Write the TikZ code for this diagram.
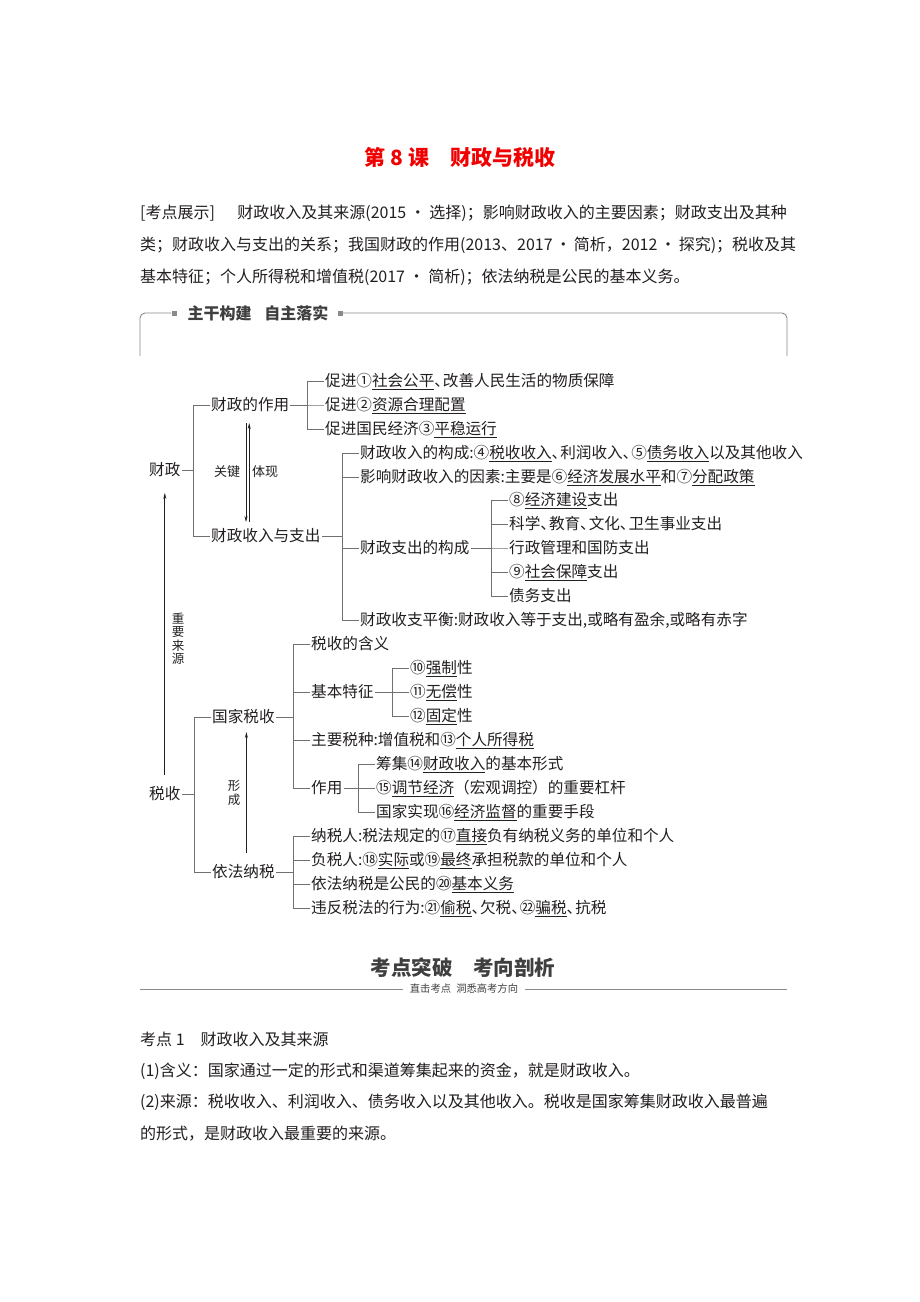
\documentclass[tikz,border=0pt]{standalone}
\usepackage{fontspec}
\setmainfont{Noto Sans CJK SC}
\usetikzlibrary{arrows.meta,positioning}
\definecolor{titlered}{HTML}{F00000}
\definecolor{bodytext}{HTML}{231F20}
\definecolor{headgray}{HTML}{3F3F3F}
\definecolor{framegray}{HTML}{8A8A8A}
\definecolor{branchgray}{HTML}{707070}
\newsavebox{\ansbox}
\newcommand{\ans}[1]{\sbox{\ansbox}{#1}\rlap{\rule[-3.4pt]{\wd\ansbox}{0.8pt}}\usebox{\ansbox}}
\newcommand{\dun}{\makebox[.55em][l]{、}}
\newcommand{\treefont}{\fontsize{15.6}{18}\selectfont}
\newcommand{\parafont}{\fontsize{16}{20}\selectfont}
\newcommand{\markfont}{\fontsize{12.5}{13.5}\selectfont}

\begin{document}
\begin{tikzpicture}[
    x=1pt, y=-1pt,
    >={Stealth[length=6pt,width=3pt]},
    every node/.style={inner sep=1pt, text=bodytext},
    item/.style={anchor=west, font=\treefont, text height=13.5pt, text depth=2pt},
    para/.style={anchor=west, font=\parafont, inner sep=0pt},
    vlabel/.style={font=\markfont, align=center, inner sep=0pt},
    branch/.style={draw=branchgray, line width=0.8pt},
    boxline/.style={draw=framegray, line width=0.9pt},
    sqmark/.style={fill=framegray, minimum size=5pt, inner sep=0pt},
    arrow/.style={->, draw=bodytext, line width=0.7pt}
]
    \useasboundingbox (0,0) rectangle (920,1302);
    \fill[white] (0,0) rectangle (920,1302);

    % === TITLE AND INTRO ===
    \node[font=\fontsize{21}{24}\selectfont\bfseries, text=titlered] (title) at (460,157) {第 8 课\quad 财政与税收};

    \node[para] (intro1) at (140,213) {[考点展示]\hspace{1.4em}财政收入及其来源(2015 • 选择)；影响财政收入的主要因素；财政支出及其种};
    \node[para] (intro2) at (140,245) {类；财政收入与支出的关系；我国财政的作用(2013、2017\,•\,简析，2012\,•\,探究)；税收及其};
    \node[para] (intro3) at (140,277) {基本特征；个人所得税和增值税(2017 • 简析)；依法纳税是公民的基本义务。};

    % Frame header
    \node[sqmark] (sqleft) at (174,313) {};
    \node[font=\fontsize{16}{18}\selectfont\bfseries, text=headgray] (zhugan) at (258,313) {主干构建\hspace{0.8em}自主落实};
    \node[sqmark] (sqright) at (340.5,313) {};
    \draw[boxline, rounded corners=5pt] (140,356) -- (140,313) -- (sqleft.west);
    \draw[boxline, rounded corners=5pt] (sqright.east) -- (787,313) -- (787,356);

    % === CAIZHENG TREE ===
    \node[item] (caizheng) at (148,470) {财政};
    \node[item] (zuoyong) at (210,405) {财政的作用};
    \node[item] (shouzhi) at (210,536) {财政收入与支出};
    \draw[branch] (zuoyong.west) -- ++(-17,0) |- (caizheng.east)
                  (shouzhi.west) -- ++(-17,0) |- (caizheng.east);

    % Role of finance
    \node[item] (gongping) at (324,381) {促进①\ans{社会公平}\dun 改善人民生活的物质保障};
    \node[item] (peizhi) at (324,405) {促进②\ans{资源合理配置}};
    \node[item] (yunxing) at (324,429) {促进国民经济③\ans{平稳运行}};
    \draw[branch] (gongping.west) -- ++(-17,0) |- (zuoyong.east)
                  (peizhi.west) -- ++(-17,0) |- (zuoyong.east)
                  (yunxing.west) -- ++(-17,0) |- (zuoyong.east);

    % Revenue and expenditure
    \node[item] (goucheng) at (359,453) {财政收入的构成:④\ans{税收收入}\dun 利润收入\dun ⑤\ans{债务收入}以及其他收入};
    \node[item] (yinsu) at (359,477) {影响财政收入的因素:主要是⑥\ans{经济发展水平}和⑦\ans{分配政策}};
    \node[item] (zhichu) at (359,548) {财政支出的构成};
    \node[item] (pingheng) at (359,620) {财政收支平衡:财政收入等于支出,或略有盈余,或略有赤字};
    \draw[branch] (goucheng.west) -- ++(-17,0) |- (shouzhi.east)
                  (yinsu.west) -- ++(-17,0) |- (shouzhi.east)
                  (zhichu.west) -- ++(-17,0) |- (shouzhi.east)
                  (pingheng.west) -- ++(-17,0) |- (shouzhi.east);

    % Kinds of expenditure
    \node[item] (jianshe) at (508,500) {⑧\ans{经济建设}支出};
    \node[item] (kejiao) at (508,524) {科学\dun 教育\dun 文化\dun 卫生事业支出};
    \node[item] (guofang) at (508,548) {行政管理和国防支出};
    \node[item] (baozhang) at (508,572) {⑨\ans{社会保障}支出};
    \node[item] (zhaiwu) at (508,596) {债务支出};
    \draw[branch] (jianshe.west) -- ++(-17,0) |- (zhichu.east)
                  (kejiao.west) -- ++(-17,0) |- (zhichu.east)
                  (guofang.west) -- ++(-17,0) |- (zhichu.east)
                  (baozhang.west) -- ++(-17,0) |- (zhichu.east)
                  (zhaiwu.west) -- ++(-17,0) |- (zhichu.east);

    % Key / embodies
    \coordinate (kjtop) at (247.6,423);
    \coordinate (kjbot) at (247.6,522);
    \draw[arrow] ([xshift=-1.6]kjtop) -- ([xshift=-1.6]kjbot);
    \draw[arrow] ([xshift=1.6]kjbot) -- ([xshift=1.6]kjtop);
    \node[font=\fontsize{13}{15}\selectfont] (guanjian) at (227,472) {关键};
    \node[font=\fontsize{13}{15}\selectfont] (tixian) at (265,472) {体现};

    % === SHUISHOU TREE ===
    \node[item] (shuishou) at (148,794) {税收};
    \node[item] (guojia) at (211,717) {国家税收};
    \node[item] (yifa) at (211,872) {依法纳税};
    \draw[branch] (guojia.west) -- ++(-17,0) |- (shuishou.east)
                  (yifa.west) -- ++(-17,0) |- (shuishou.east);

    % Important source
    \draw[arrow, shorten <=10pt, shorten >=14pt] (shuishou.north) -- (caizheng.south);
    \node[vlabel] (laiyuan) at (178,639) {重\\要\\来\\源};

    % National taxation
    \node[item] (hanyi) at (310,644) {税收的含义};
    \node[item] (tezheng) at (310,692) {基本特征};
    \node[item] (shuizhong) at (310,740) {主要税种:增值税和⑬\ans{个人所得税}};
    \node[item] (shuizy) at (310,788) {作用};
    \draw[branch] (hanyi.west) -- ++(-17,0) |- (guojia.east)
                  (tezheng.west) -- ++(-17,0) |- (guojia.east)
                  (shuizhong.west) -- ++(-17,0) |- (guojia.east)
                  (shuizy.west) -- ++(-17,0) |- (guojia.east);

    \node[item] (qiangzhi) at (409,668) {⑩\ans{强制}性};
    \node[item] (wuchang) at (409,692) {⑪\ans{无偿}性};
    \node[item] (guding) at (409,716) {⑫\ans{固定}性};
    \draw[branch] (qiangzhi.west) -- ++(-17,0) |- (tezheng.east)
                  (wuchang.west) -- ++(-17,0) |- (tezheng.east)
                  (guding.west) -- ++(-17,0) |- (tezheng.east);

    \node[item] (chouji) at (375,764) {筹集⑭\ans{财政收入}的基本形式};
    \node[item] (tiaojie) at (375,788) {⑮\ans{调节经济}（宏观调控）的重要杠杆};
    \node[item] (jiandu) at (375,812) {国家实现⑯\ans{经济监督}的重要手段};
    \draw[branch] (chouji.west) -- ++(-17,0) |- (shuizy.east)
                  (tiaojie.west) -- ++(-17,0) |- (shuizy.east)
                  (jiandu.west) -- ++(-17,0) |- (shuizy.east);

    % Formation
    \draw[arrow, shorten <=10pt, shorten >=6pt] ([xshift=3pt]yifa.north) -- ([xshift=3pt]guojia.south);
    \node[vlabel, font=\fontsize{12.5}{14.5}\selectfont] (xingcheng) at (234,793) {形\\成};

    % Paying taxes by law
    \node[item] (nashuiren) at (310,836) {纳税人:税法规定的⑰\ans{直接}负有纳税义务的单位和个人};
    \node[item] (fushuiren) at (310,860) {负税人:⑱\ans{实际}或⑲\ans{最终}承担税款的单位和个人};
    \node[item] (yiwu) at (310,884) {依法纳税是公民的⑳\ans{基本义务}};
    \node[item] (weifan) at (310,908) {违反税法的行为:㉑\ans{偷税}\dun 欠税\dun ㉒\ans{骗税}\dun 抗税};
    \draw[branch] (nashuiren.west) -- ++(-17,0) |- (yifa.east)
                  (fushuiren.west) -- ++(-17,0) |- (yifa.east)
                  (yiwu.west) -- ++(-17,0) |- (yifa.east)
                  (weifan.west) -- ++(-17,0) |- (yifa.east);

    % === KAODIAN SECTION ===
    \node[font=\fontsize{20.5}{24}\selectfont\bfseries, text=headgray] (tupo) at (463,968) {考点突破\hspace{1em}考向剖析};
    \node[font=\fontsize{10.3}{12}\selectfont, text=headgray, inner xsep=7pt] (zhiji) at (464,989) {直击考点\hspace{0.5em}洞悉高考方向};
    \draw[boxline] (140,989) -- (zhiji.west);
    \draw[boxline] (zhiji.east) -- (787,989);

    \node[para] (kaodian) at (140,1039) {考点 1\quad 财政收入及其来源};
    \node[para] (hanyitxt) at (140,1071) {(1)含义：国家通过一定的形式和渠道筹集起来的资金，就是财政收入。};
    \node[para] (laiyuan1) at (140,1102) {(2)来源：税收收入、利润收入、债务收入以及其他收入。税收是国家筹集财政收入最普遍};
    \node[para] (laiyuan2) at (140,1134) {的形式，是财政收入最重要的来源。};
\end{tikzpicture}
\end{document}
